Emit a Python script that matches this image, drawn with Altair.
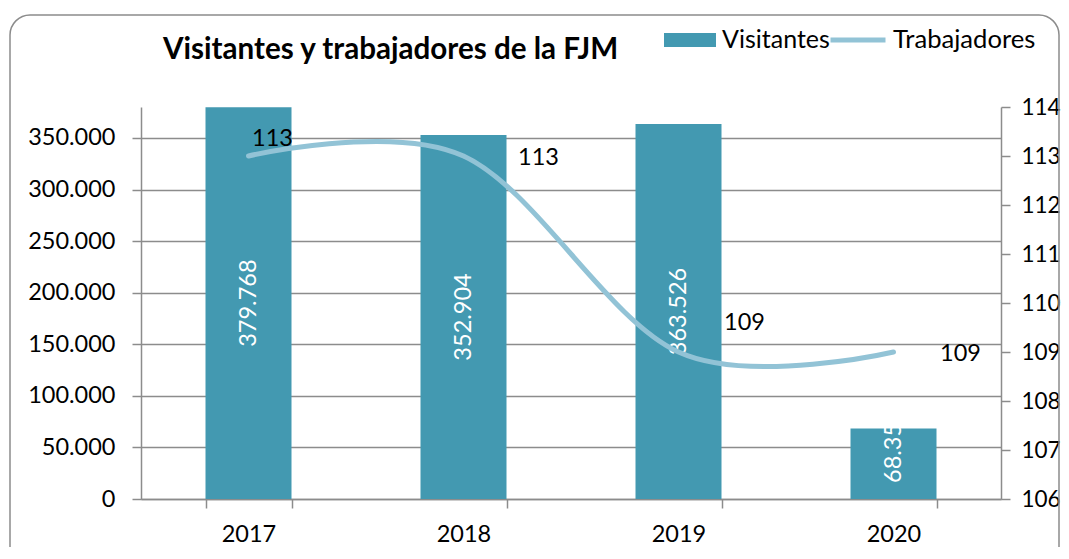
import altair as alt
import pandas as pd

years = ["2017", "2018", "2019", "2020"]
visitantes = [379768, 352904, 363526, 68350]
trabajadores = [113, 113, 109, 109]
left_ticks = [0, 50000, 100000, 150000, 200000, 250000, 300000, 350000]
right_ticks = [106, 107, 108, 109, 110, 111, 112, 113, 114]

df = pd.DataFrame({"year": years, "visitantes": visitantes, "trabajadores": trabajadores})

TEAL = "#4399B1"
LIGHT = "#92C3D6"
GRID = "#8C8C8C"
FONT = "Lato"
NUM = 23.5

base = alt.Chart(df)

x_axis = alt.X(
    "year:N", sort=years,
    scale=alt.Scale(paddingInner=0.6, paddingOuter=0.3),
    axis=alt.Axis(title=None, labelAngle=0, tickBand="extent", tickSize=9, tickColor=GRID,
                  tickWidth=1.5, domainColor=GRID, domainWidth=1.5, labelFont=FONT,
                  labelFontSize=NUM, labelColor="black", labelPadding=14, grid=False),
)
x_plain = alt.X("year:N", sort=years, title=None)

yl_scale = alt.Scale(domain=[0, 380000], nice=False)
yr_scale = alt.Scale(domain=[106, 114], nice=False, zero=False)

bars = base.transform_calculate(serie="'Visitantes'").mark_bar().encode(
    x=x_axis,
    y=alt.Y("visitantes:Q", scale=yl_scale,
            axis=alt.Axis(title=None, values=left_ticks,
                          labelExpr="replace(format(datum.value, ','), ',', '.')",
                          grid=True, gridColor=GRID, gridWidth=1.5,
                          domainColor=GRID, domainWidth=1.5, tickColor=GRID, tickWidth=1.5,
                          tickSize=9, labelFont=FONT, labelFontSize=NUM, labelColor="black",
                          labelPadding=17)),
    fill=alt.Fill("serie:N", scale=alt.Scale(domain=["Visitantes"], range=[TEAL]),
                  legend=alt.Legend(title=None, orient="none", legendX=523, legendY=-93,
                                    symbolType="M-1,-0.27H1V0.27H-1Z", symbolSize=2704,
                                    symbolStrokeWidth=0, labelFont=FONT, labelFontSize=25,
                                    labelColor="black", labelOffset=6, padding=0)),
)

bar_text = base.transform_filter("datum.year != '2020'").transform_calculate(
    mid="datum.visitantes / 2",
    lab="replace(format(datum.visitantes, ','), ',', '.')",
).mark_text(angle=270, color="white", font=FONT, fontSize=NUM, align="center",
            baseline="middle").encode(
    x=x_plain,
    y=alt.Y("mid:Q", scale=yl_scale, title=None),
    text="lab:N",
)

bar_text_2020 = base.transform_filter("datum.year == '2020'").transform_calculate(
    zero="0",
    lab="replace(format(datum.visitantes, ','), ',', '.')",
).mark_text(angle=270, color="white", font=FONT, fontSize=NUM, align="left",
            baseline="middle", dx=16, limit=62, ellipsis="\u200b").encode(
    x=x_plain,
    y=alt.Y("zero:Q", scale=yl_scale, title=None),
    text="lab:N",
)

border = alt.Chart(pd.DataFrame({"k": [0]})).mark_rect(
    fill="transparent", stroke=GRID, strokeWidth=1.5, cornerRadius=20
).encode(x=alt.value(-131), x2=alt.value(918), y=alt.value(-92), y2=alt.value(460))

title = alt.Chart(pd.DataFrame({"t": ["Visitantes y trabajadores de la FJM"]})).mark_text(
    font=FONT, fontSize=29.6, fontWeight="bold", color="black", align="left",
    baseline="alphabetic"
).encode(x=alt.value(22), y=alt.value(-48), text="t:N")

left = alt.layer(bars, bar_text, bar_text_2020)

line = base.transform_calculate(serie2="'Trabajadores'").mark_line(
    interpolate="cardinal", tension=0, strokeWidth=5, strokeCap="round"
).encode(
    x=x_plain,
    y=alt.Y("trabajadores:Q", scale=yr_scale,
            axis=alt.Axis(title=None, orient="right", values=right_ticks, format="d",
                          grid=False, domainColor=GRID, domainWidth=1.5, tickColor=GRID,
                          tickWidth=1.5, tickSize=9, labelFont=FONT, labelFontSize=22.5,
                          labelColor="black", labelPadding=11)),
    stroke=alt.Stroke("serie2:N", scale=alt.Scale(domain=["Trabajadores"], range=[LIGHT]),
                      legend=alt.Legend(title=None, orient="none", legendX=687, legendY=-97,
                                        symbolType="stroke", symbolSize=3025,
                                        symbolStrokeWidth=5, labelFont=FONT,
                                        labelFontSize=25.6, labelColor="black",
                                        labelOffset=5, padding=0)),
)

offsets = {"2017": (24, -17), "2018": (75, 2), "2019": (66, -29), "2020": (67, 2)}
line_texts = []
for yr in years:
    dx, dy = offsets[yr]
    line_texts.append(
        base.transform_filter(f"datum.year == '{yr}'").mark_text(
            font=FONT, fontSize=NUM, color="black", align="center", baseline="middle",
            dx=dx, dy=dy
        ).encode(
            x=x_plain,
            y=alt.Y("trabajadores:Q", scale=yr_scale, title=None),
            text=alt.Text("trabajadores:Q", format="d"),
        )
    )

right = alt.layer(line, *line_texts)

chart = alt.layer(left, right, border, title).resolve_scale(
    y="independent", fill="independent", stroke="independent"
).properties(
    width=860, height=392,
    padding={"left": 133, "top": 99, "right": 60, "bottom": 48},
    autosize=alt.AutoSizeParams(type="none"),
).configure_view(stroke=None)

chart.save("out.html", embed_options={"renderer": "svg", "actions": False})
